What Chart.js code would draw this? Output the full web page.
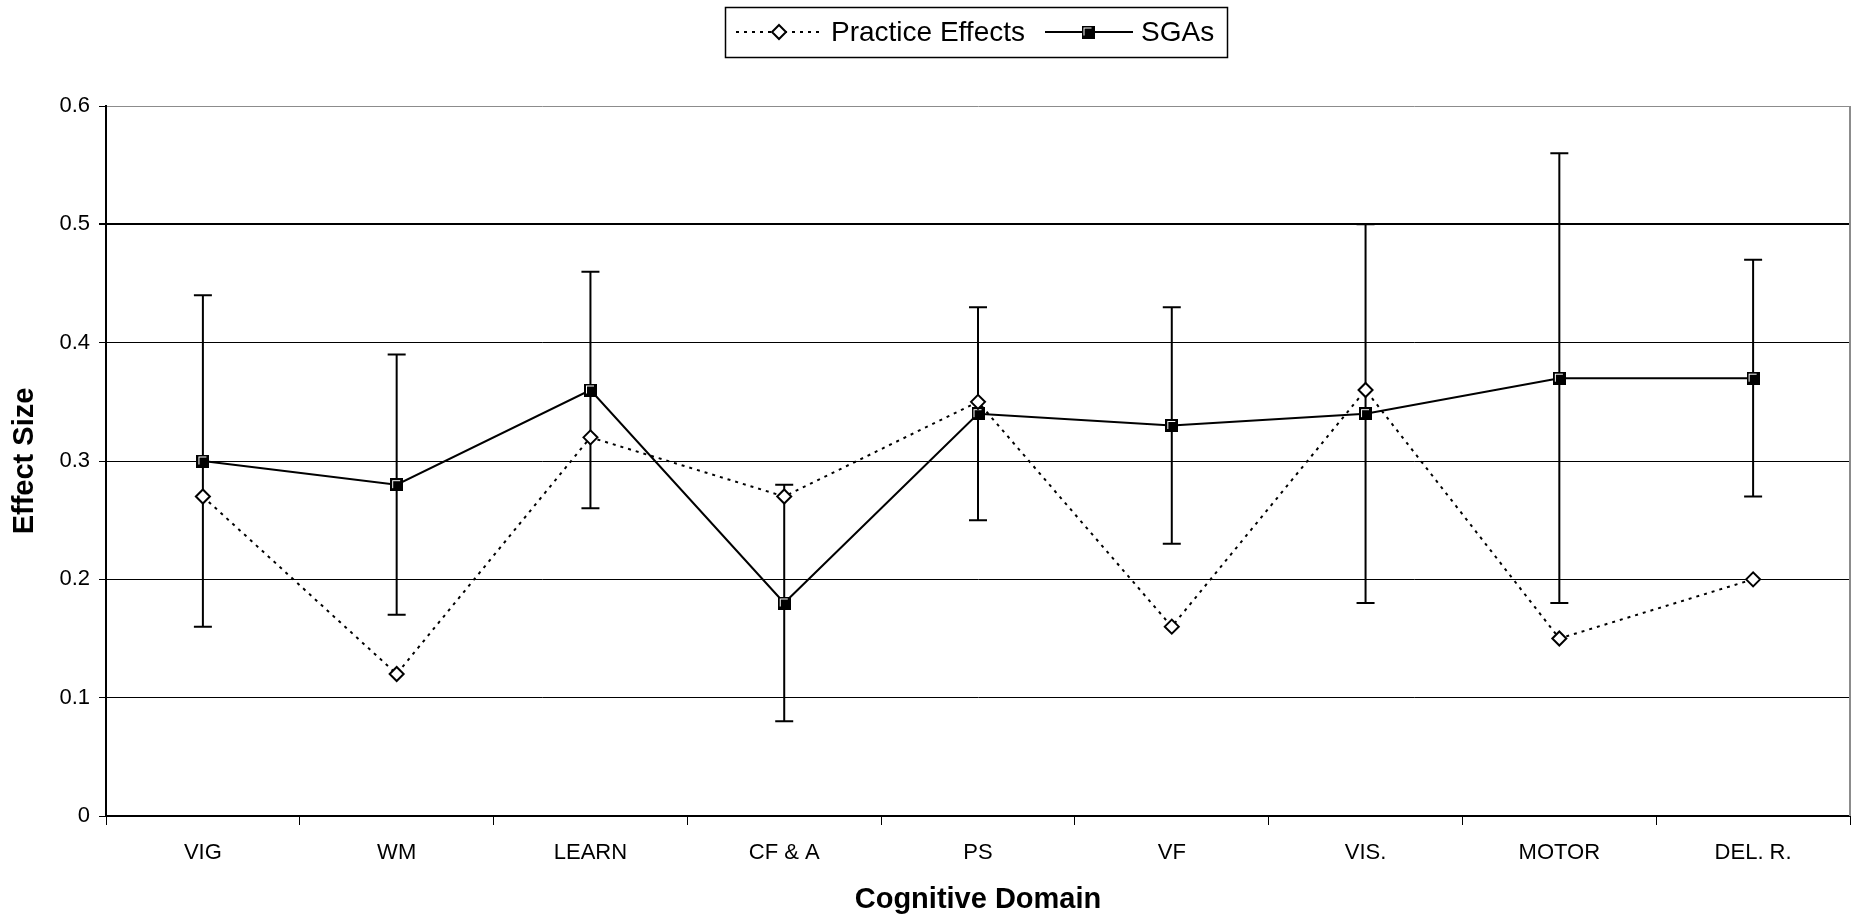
<!DOCTYPE html>
<html>
<head>
<meta charset="utf-8">
<title>Effect Size by Cognitive Domain</title>
<script src="https://cdn.jsdelivr.net/npm/chart.js@4/dist/chart.umd.min.js"></script>
<style>
  html, body { margin: 0; padding: 0; background: #fff; overflow: hidden; }
</style>
</head>
<body>
<canvas id="chart" width="1862" height="917"></canvas>
<script>
const categories = ['VIG', 'WM', 'LEARN', 'CF & A', 'PS', 'VF', 'VIS.', 'MOTOR', 'DEL. R.'];
const seriesNames = ['Practice Effects', 'SGAs'];
const practiceEffects = [0.27, 0.12, 0.32, 0.27, 0.35, 0.16, 0.36, 0.15, 0.20];
const sgas = [0.30, 0.28, 0.36, 0.18, 0.34, 0.33, 0.34, 0.37, 0.37];
const sgaLow = [0.16, 0.17, 0.26, 0.08, 0.25, 0.23, 0.18, 0.18, 0.27];
const sgaHigh = [0.44, 0.39, 0.46, 0.28, 0.43, 0.43, 0.50, 0.56, 0.47];
const yMin = 0;
const yMax = 0.6;
const yStep = 0.1;

const FONT = '"Liberation Sans", Arial, Helvetica, sans-serif';

// filled square marker with the little white inner edge, like the original
function makeSquareMarker() {
  const c = document.createElement('canvas');
  c.width = 13;
  c.height = 13;
  const g = c.getContext('2d');
  g.fillStyle = '#000';
  g.fillRect(0, 0, 13, 13);
  g.fillStyle = '#fff';
  g.fillRect(2, 2, 8, 1);
  g.fillRect(2, 2, 1, 8);
  return c;
}
const squareMarker = makeSquareMarker();

function drawDiamond(ctx, x, y, r) {
  ctx.beginPath();
  ctx.moveTo(x, y - r);
  ctx.lineTo(x + r, y);
  ctx.lineTo(x, y + r);
  ctx.lineTo(x - r, y);
  ctx.closePath();
  ctx.fillStyle = '#fff';
  ctx.fill();
  ctx.lineWidth = 2;
  ctx.strokeStyle = '#000';
  ctx.stroke();
}

const errorBars = {
  id: 'errorBars',
  beforeDatasetsDraw(chart) {
    const { ctx, scales: { x, y } } = chart;
    ctx.save();
    ctx.strokeStyle = '#000';
    ctx.lineWidth = 2;
    categories.forEach((c, i) => {
      const px = x.getPixelForValue(i);
      const top = y.getPixelForValue(sgaHigh[i]);
      const bot = y.getPixelForValue(sgaLow[i]);
      ctx.beginPath();
      ctx.moveTo(px, top);
      ctx.lineTo(px, bot);
      ctx.moveTo(px - 9, top);
      ctx.lineTo(px + 9, top);
      ctx.moveTo(px - 9, bot);
      ctx.lineTo(px + 9, bot);
      ctx.stroke();
    });
    ctx.restore();
  }
};

const frameAndLegend = {
  id: 'frameAndLegend',
  afterDraw(chart) {
    const { ctx, chartArea } = chart;
    ctx.save();

    // grey right edge of the plot area
    ctx.strokeStyle = '#8c8c8c';
    ctx.lineWidth = 2;
    ctx.beginPath();
    ctx.moveTo(chartArea.right, chartArea.top);
    ctx.lineTo(chartArea.right, chartArea.bottom);
    ctx.stroke();

    // boxed legend
    ctx.strokeStyle = '#000';
    ctx.lineWidth = 1.5;
    ctx.strokeRect(725.5, 7.5, 502, 50);

    const cy = 32;
    ctx.font = '28px ' + FONT;
    ctx.textBaseline = 'middle';
    ctx.fillStyle = '#000';

    ctx.lineWidth = 2;
    ctx.setLineDash([3, 5]);
    ctx.beginPath();
    ctx.moveTo(736, cy);
    ctx.lineTo(820, cy);
    ctx.stroke();
    ctx.setLineDash([]);
    drawDiamond(ctx, 779, cy, 7);
    ctx.fillStyle = '#000';
    ctx.fillText(seriesNames[0], 831, cy + 1);

    ctx.lineWidth = 2;
    ctx.beginPath();
    ctx.moveTo(1045, cy);
    ctx.lineTo(1133, cy);
    ctx.stroke();
    ctx.drawImage(squareMarker, 1088 - 6.5, cy - 6.5);
    ctx.fillText(seriesNames[1], 1141, cy + 1);

    ctx.restore();
  }
};

const ctx = document.getElementById('chart').getContext('2d');

new Chart(ctx, {
  type: 'line',
  data: {
    labels: categories,
    datasets: [
      {
        label: seriesNames[0],
        data: practiceEffects,
        borderColor: '#000',
        borderWidth: 2,
        borderDash: [3, 5],
        pointStyle: 'rectRot',
        pointRadius: 7,
        pointBorderWidth: 2,
        pointBackgroundColor: '#fff',
        pointBorderColor: '#000',
        tension: 0,
        fill: false
      },
      {
        label: seriesNames[1],
        data: sgas,
        borderColor: '#000',
        borderWidth: 2,
        pointStyle: squareMarker,
        pointRadius: 7,
        tension: 0,
        fill: false
      }
    ]
  },
  options: {
    responsive: false,
    animation: false,
    events: [],
    layout: {
      padding: { top: 106, right: 12, left: 0, bottom: 0 }
    },
    plugins: {
      legend: { display: false },
      tooltip: { enabled: false }
    },
    scales: {
      x: {
        offset: true,
        afterFit(scale) { scale.height = 101; },
        grid: {
          offset: true,
          drawOnChartArea: false,
          drawTicks: true,
          tickLength: 9,
          tickColor: '#000',
          tickWidth: 1
        },
        border: { display: true, color: '#000', width: 2 },
        ticks: {
          color: '#000',
          font: { family: FONT, size: 22 },
          padding: 15,
          autoSkip: false,
          maxRotation: 0
        },
        title: {
          display: true,
          text: 'Cognitive Domain',
          color: '#000',
          font: { family: FONT, size: 29, weight: 'bold' },
          padding: { top: 0, bottom: 0 }
        }
      },
      y: {
        min: yMin,
        max: yMax,
        afterFit(scale) { scale.width = 106; },
        grid: {
          color: (c) => (c.tick && c.tick.value > yMax - 1e-9) ? '#8c8c8c' : '#000',
          lineWidth: (c) => (c.tick && Math.abs(c.tick.value - 0.5) < 1e-9) ? 2 : 1,
          tickLength: 7,
          tickColor: '#000'
        },
        border: { display: true, color: '#000', width: 2 },
        ticks: {
          stepSize: yStep,
          color: '#000',
          padding: 9,
          font: { family: FONT, size: 22 },
          callback: (v) => String(+v.toFixed(1))
        },
        title: {
          display: true,
          text: 'Effect Size',
          color: '#000',
          font: { family: FONT, size: 29, weight: 'bold' },
          padding: { top: 8, bottom: 0 }
        }
      }
    }
  },
  plugins: [errorBars, frameAndLegend]
});
</script>
</body>
</html>
